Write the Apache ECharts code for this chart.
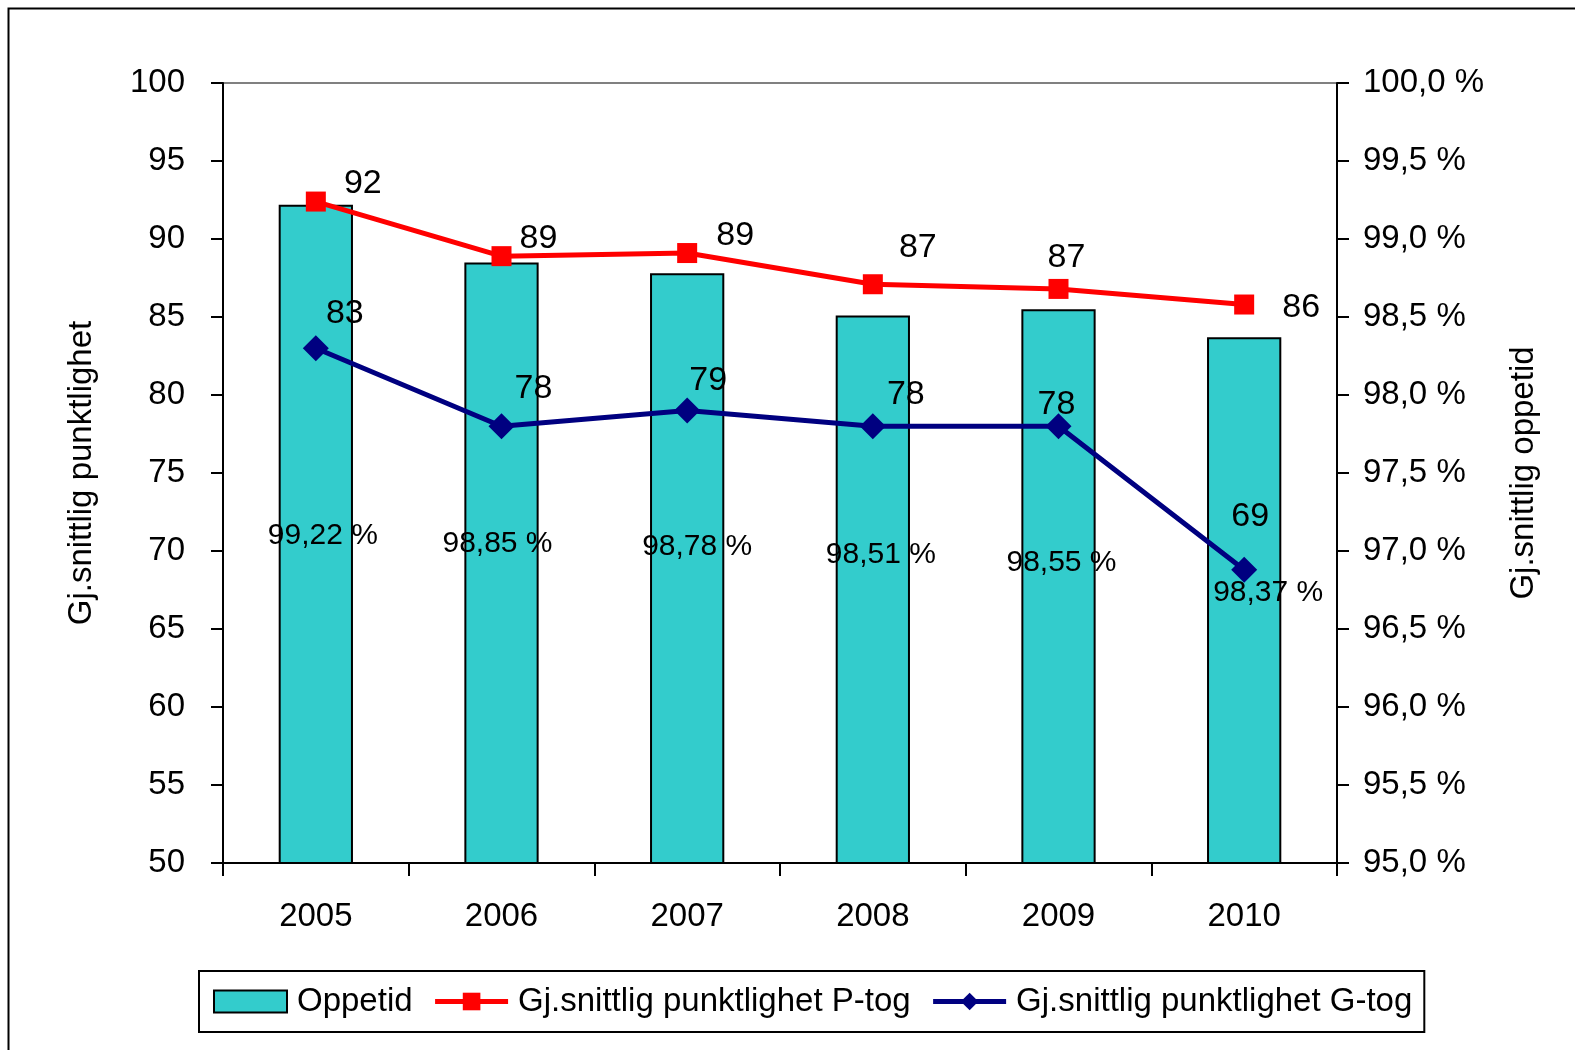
<!DOCTYPE html>
<html>
<head>
<meta charset="utf-8">
<script src="https://cdn.jsdelivr.net/npm/echarts@6/dist/echarts.min.js"></script>
<style>
html,body{margin:0;padding:0;background:#fff;}
#c{width:1575px;height:1050px;}
</style>
</head>
<body>
<div id="c"></div>
<script>
const years = ['2005','2006','2007','2008','2009','2010'];
const oppetid = [99.22, 98.85, 98.78, 98.51, 98.55, 98.37];
const pTog = [92.4, 88.9, 89.1, 87.1, 86.8, 85.8];
const gTog = [83.0, 78.0, 79.0, 78.0, 78.0, 68.8];
const leftTicks = {min: 50, max: 100, interval: 5};
const rightTicks = {min: 95, max: 100, interval: 0.5};

// label placement tweaks (pixels), kept apart from data
const barLabelOffset = [[7,1],[-4,-19],[10,-22],[8,-35],[3,-24],[24,-8]];
const pLabelOffset = [[47,-18],[37,-18],[48,-17],[45,-37],[8,-31],[57,3]];
const gLabelOffset = [[29,-35],[32,-38],[21,-30],[33,-32],[-2,-22],[6,-53]];

const FONT = 'Liberation Sans, Arial, sans-serif';
const chart = echarts.init(document.getElementById('c'));
chart.setOption({
  animation: false,
  backgroundColor: '#fff',
  textStyle: {fontFamily: FONT, color: '#000'},
  graphic: [{
    type: 'rect', left: 6, top: 6, silent: true,
    shape: {width: 1620, height: 1100},
    style: {fill: 'none', stroke: '#000', lineWidth: 2}
  }],
  grid: {left: 223, right: 238, top: 83, bottom: 187, show: true,
         borderColor: '#808080', borderWidth: 2, backgroundColor: 'transparent'},
  legend: {
    left: 199, top: 971,
    padding: [14, 12, 14, 14],
    borderColor: '#000', borderWidth: 2,
    itemWidth: 73, itemHeight: 22, itemGap: 20,
    textStyle: {fontFamily: FONT, fontSize: 33, color: '#000', padding: [0,0,0,5]},
    data: [
      {name: 'Oppetid', icon: 'rect'},
      {name: 'Gj.snittlig punktlighet P-tog', lineStyle: {width: 5}},
      {name: 'Gj.snittlig punktlighet G-tog', lineStyle: {width: 5}}
    ]
  },
  xAxis: {
    type: 'category', data: years,
    axisLine: {lineStyle: {color: '#000', width: 2}},
    axisTick: {show: true, length: 13, alignWithLabel: false, lineStyle: {color: '#000', width: 2}},
    axisLabel: {fontFamily: FONT, fontSize: 33, color: '#000', margin: 37},
    splitLine: {show: false}
  },
  yAxis: [{
    type: 'value', position: 'left', min: leftTicks.min, max: leftTicks.max, interval: leftTicks.interval,
    name: 'Gj.snittlig punktlighet', nameLocation: 'middle', nameGap: 125, nameRotate: 90,
    nameTextStyle: {fontFamily: FONT, fontSize: 33, color: '#000'},
    axisLine: {show: true, lineStyle: {color: '#000', width: 2}},
    axisTick: {show: true, length: 12, lineStyle: {color: '#000', width: 2}},
    axisLabel: {fontFamily: FONT, fontSize: 33, color: '#000', margin: 38},
    splitLine: {show: false}
  }, {
    type: 'value', position: 'right', min: rightTicks.min, max: rightTicks.max, interval: rightTicks.interval,
    name: 'Gj.snittlig oppetid', nameLocation: 'middle', nameGap: 170, nameRotate: 90,
    nameTextStyle: {fontFamily: FONT, fontSize: 33, color: '#000'},
    axisLine: {show: true, lineStyle: {color: '#000', width: 2}},
    axisTick: {show: true, length: 12, lineStyle: {color: '#000', width: 2}},
    axisLabel: {fontFamily: FONT, fontSize: 33, color: '#000', margin: 26,
      formatter: v => v.toFixed(1).replace('.', ',') + ' %'},
    splitLine: {show: false}
  }],
  series: [{
    name: 'Oppetid', type: 'bar', yAxisIndex: 1, barWidth: '40%',
    itemStyle: {color: '#33CCCC', borderColor: '#000', borderWidth: 2},
    label: {show: true, position: 'inside', fontFamily: FONT, fontSize: 30, color: '#000',
      formatter: p => p.value.toFixed(2).replace('.', ',') + ' %'},
    data: oppetid.map((v, i) => ({value: v, label: {offset: barLabelOffset[i]}})),
    z: 2
  }, {
    name: 'Gj.snittlig punktlighet P-tog', type: 'line', yAxisIndex: 0,
    symbol: 'rect', symbolSize: 20,
    lineStyle: {color: '#FF0000', width: 5},
    itemStyle: {color: '#FF0000'},
    label: {show: true, position: 'inside', fontFamily: FONT, fontSize: 34, color: '#000',
      formatter: p => Math.round(p.value)},
    data: pTog.map((v, i) => ({value: v, label: {offset: pLabelOffset[i]}})),
    z: 4
  }, {
    name: 'Gj.snittlig punktlighet G-tog', type: 'line', yAxisIndex: 0,
    symbol: 'diamond', symbolSize: 26,
    lineStyle: {color: '#000080', width: 5},
    itemStyle: {color: '#000080'},
    label: {show: true, position: 'inside', fontFamily: FONT, fontSize: 34, color: '#000',
      formatter: p => Math.round(p.value)},
    data: gTog.map((v, i) => ({value: v, label: {offset: gLabelOffset[i]}})),
    z: 4
  }]
});
</script>
</body>
</html>
